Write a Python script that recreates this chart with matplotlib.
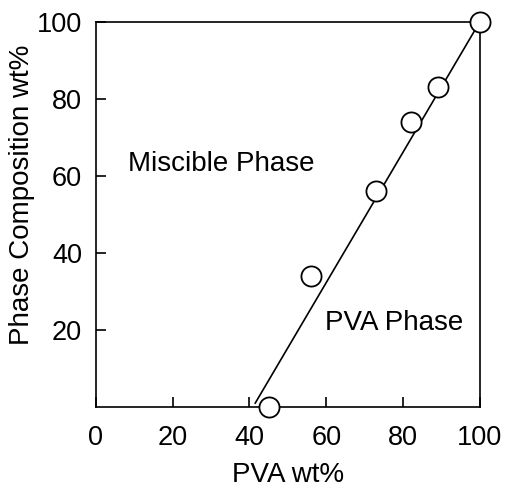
import matplotlib
matplotlib.use('Agg')
from matplotlib import pyplot as plt

# data
pva_wt = [45, 56, 73, 82, 89, 100]
phase_comp = [0, 34, 56, 74, 83, 100]
line_x = [41.5, 100]
line_y = [1, 100]

plt.rcParams['font.family'] = ['Liberation Sans', 'DejaVu Sans']

fig = plt.figure(figsize=(5.05, 4.88), dpi=100)
ax = fig.add_axes([0.190, 0.166, 0.760, 0.789])

ax.plot(line_x, line_y, color='black', lw=1.2, zorder=2)
ax.plot(pva_wt, phase_comp, 'o', ms=14.5, mfc='white', mec='black', mew=1.3,
        clip_on=False, zorder=3)

ax.set_xlim(0, 100)
ax.set_ylim(0, 100)
ax.set_xticks([0, 20, 40, 60, 80, 100])
ax.set_yticks([20, 40, 60, 80, 100])
ax.tick_params(direction='in', length=7, width=1.2, labelsize=19.5)
ax.tick_params(axis='x', pad=13)
ax.tick_params(axis='y', pad=10)
for s in ax.spines.values():
    s.set_linewidth(1.2)

ax.text(8.3, 63, 'Miscible Phase', fontsize=20, va='center', ha='left')
ax.text(59.6, 21.7, 'PVA Phase', fontsize=20, va='center', ha='left')

ax.set_xlabel('PVA wt%', fontsize=20, labelpad=8)
ax.set_ylabel('Phase Composition wt%', fontsize=20)
ax.yaxis.set_label_coords(-0.158, 0.55)

fig.savefig('out.png', dpi=100)
